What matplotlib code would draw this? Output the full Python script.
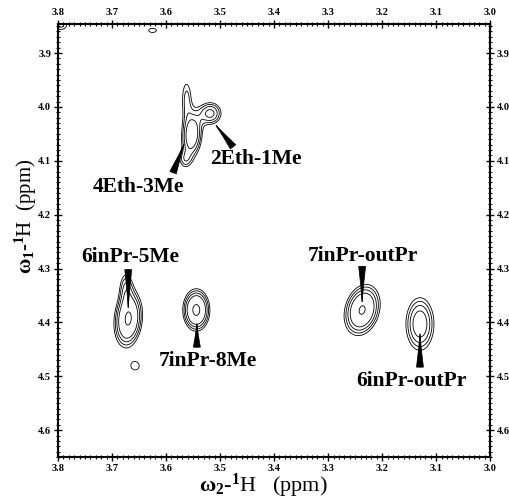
import matplotlib
matplotlib.use("Agg")
import matplotlib.pyplot as plt
import numpy as np

plt.rcParams["font.family"] = ["Liberation Serif", "DejaVu Serif"]
plt.rcParams["font.weight"] = "bold"
plt.rcParams["mathtext.fontset"] = "custom"
plt.rcParams["mathtext.rm"] = "Liberation Serif:bold"
plt.rcParams["mathtext.it"] = "Liberation Serif:bold"
plt.rcParams["mathtext.bf"] = "Liberation Serif:bold"

# cross peaks (ppm): w2, w1, widths, tilt, intensity
peak_w2 = [3.518, 3.552, 3.562, 3.565, 3.670, 3.674, 3.544, 3.657, 3.237, 3.130, 3.795, 3.625]
peak_w1 = [4.012, 4.052, 3.985, 4.098, 4.394, 4.335, 4.377, 4.481, 4.377, 4.403, 3.848, 3.858]
peak_sx = [0.014, 0.012, 0.008, 0.009, 0.015, 0.009, 0.014, 0.013, 0.019, 0.017, 0.012, 0.015]
peak_sy = [0.014, 0.027, 0.030, 0.012, 0.030, 0.022, 0.022, 0.013, 0.027, 0.032, 0.009, 0.008]
peak_rho = [0.0, 0.15, 0.0, 0.0, 0.15, 0.0, 0.0, 0.0, 0.22, 0.0, 0.0, 0.0]
peak_amp = [2.7, 3.5, 1.5, 1.3, 4.8, 1.6, 5.0, 1.15, 4.7, 3.2, 1.5, 1.12]

contour_levels = [1.0, 1.35, 1.8, 2.4, 4.5]

# assignments: label position, pointer (thick end -> thin end)
labels = ["2Eth-1Me", "4Eth-3Me", "6inPr-5Me", "7inPr-8Me", "7inPr-outPr", "6inPr-outPr"]
label_w2 = [3.433, 3.652, 3.667, 3.522, 3.235, 3.146]
label_w1 = [4.096, 4.148, 4.279, 4.472, 4.277, 4.509]
ptr_from_w2 = [3.476, 3.587, 3.670, 3.543, 3.237, 3.130]
ptr_from_w1 = [4.074, 4.122, 4.302, 4.446, 4.296, 4.483]
ptr_to_w2 = [3.507, 3.567, 3.670, 3.543, 3.237, 3.130]
ptr_to_w1 = [4.035, 4.070, 4.372, 4.403, 4.361, 4.422]

w2 = np.linspace(3.0, 3.8, 500)
w1 = np.linspace(3.84, 4.65, 500)
X, Y = np.meshgrid(w2, w1)
Z = np.zeros_like(X)
for x0, y0, sx, sy, r, a in zip(peak_w2, peak_w1, peak_sx, peak_sy, peak_rho, peak_amp):
    u = (X - x0) / sx
    v = (Y - y0) / sy
    Z += a * np.exp(-(u ** 2 - 2 * r * u * v + v ** 2) / (2 * (1 - r ** 2)))

fig = plt.figure(figsize=(5.09, 4.99), dpi=100)
ax = fig.add_axes([0.114, 0.084, 0.849, 0.868])

ax.contour(X, Y, Z, levels=contour_levels, colors="black", linewidths=0.6)

for txt, lx, ly, fx, fy, tx, ty in zip(labels, label_w2, label_w1,
                                       ptr_from_w2, ptr_from_w1, ptr_to_w2, ptr_to_w1):
    ax.text(lx, ly, txt, fontsize=15.5, fontweight="bold", ha="center", va="center")
    ax.annotate("", xy=(tx, ty), xytext=(fx, fy),
                arrowprops=dict(arrowstyle="-", color="black", lw=0.9,
                                shrinkA=0, shrinkB=0))
    ax.annotate("", xy=(tx, ty), xytext=(fx, fy),
                arrowprops=dict(arrowstyle="wedge,tail_width=0.5,shrink_factor=0.45",
                                fc="black", ec="black", lw=0.5,
                                shrinkA=0, shrinkB=0))

ax.set_xlim(3.8, 3.0)
ax.set_ylim(4.646, 3.846)
ax.set_xticks(np.arange(3.0, 3.81, 0.1))
ax.set_yticks(np.arange(3.9, 4.61, 0.1))
ax.set_xticks(np.arange(3.0, 3.8, 0.01), minor=True)
ax.set_yticks(np.arange(3.85, 4.65, 0.01), minor=True)
ax.xaxis.set_major_formatter(matplotlib.ticker.FormatStrFormatter("%.1f"))
ax.yaxis.set_major_formatter(matplotlib.ticker.FormatStrFormatter("%.1f"))
ax.tick_params(which="both", direction="inout", top=True, right=True,
               labeltop=True, labelright=True, labelsize=7.5, width=1.0, pad=2)
ax.tick_params(which="major", length=6)
ax.tick_params(which="minor", length=3, width=0.8)
for s in ax.spines.values():
    s.set_linewidth(1.5)

ax.set_xlabel(r"$\omega_2$-$^1$H   (ppm)", fontsize=16, va="center")
ax.xaxis.set_label_coords(0.475, -0.066)
ax.set_ylabel(r"$\omega_1$-$^1$H  (ppm)", fontsize=15, va="center")
ax.yaxis.set_label_coords(-0.075, 0.557)

fig.savefig("out.png", dpi=100)
